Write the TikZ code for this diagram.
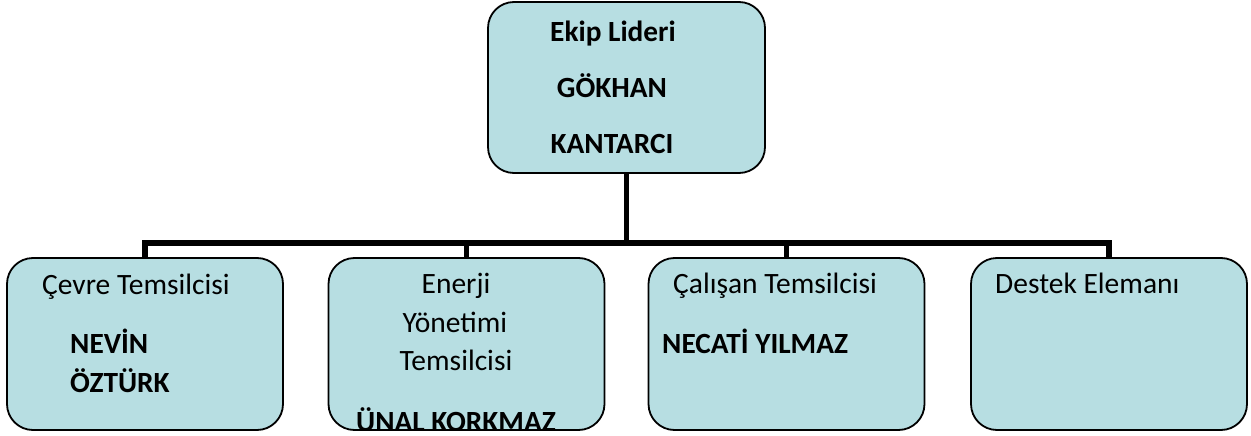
\documentclass[tikz,border=0pt]{standalone}
\usepackage{fontspec}
\setmainfont{Carlito}
\definecolor{boxfill}{RGB}{183,222,226}
\begin{document}
\begin{tikzpicture}[x=1pt,y=-1pt,
  box/.style={draw=black,line width=1.8pt,fill=boxfill,rounded corners=26pt,
    minimum width=276pt,minimum height=172pt,inner sep=0pt},
  conn/.style={draw=black,line width=5.5pt},
  txt/.style={inner sep=0pt,font=\fontsize{29.5}{34}\selectfont},
  btxt/.style={txt,font=\fontsize{29.3}{34}\selectfont\bfseries}]
\useasboundingbox (0,0) rectangle (1251,436);
% boxes
\node[box,minimum width=277pt,minimum height=171pt] (top) at (626.5,87.5) {};
\node[box] (b1) at (145,344) {};
\node[box] (b2) at (466.5,344) {};
\node[box] (b3) at (786.5,344) {};
\node[box] (b4) at (1109,344) {};
% connectors
\coordinate (bar) at (626.5,243);
\draw[conn] (top.south) -- (bar);
\draw[conn] (b1.north) |- (bar) -| (b4.north);
\draw[conn] (b2.north) -- (b2.north |- bar);
\draw[conn] (b3.north) -- (b3.north |- bar);
% top texts
\node[btxt,anchor=base] (t1) at (613,42) {Ekip Lideri};
\node[btxt,anchor=base] (t2) at (612,98) {GÖKHAN};
\node[btxt,anchor=base] (t3) at (612,153) {KANTARCI};
% box 1
\node[txt,anchor=base west] (c1) at (42,294) {Çevre Temsilcisi};
\node[btxt,anchor=base west] (c2) at (70,353) {NEVİN};
\node[btxt,anchor=base west] (c3) at (70,392) {ÖZTÜRK};
% box 2
\node[txt,anchor=base] (e1) at (456,293) {Enerji};
\node[txt,anchor=base] (e2) at (455,332) {Yönetimi};
\node[txt,anchor=base] (e3) at (456,370) {Temsilcisi};
\begin{scope}
\clip (b2.south west) rectangle (b2.north east);
\node[btxt,anchor=base] (e4) at (456,431) {ÜNAL KORKMAZ};
\end{scope}
% box 3
\node[txt,anchor=base west] (d1) at (673,293) {Çalışan Temsilcisi};
\node[btxt,anchor=base west] (d2) at (662,353) {NECATİ YILMAZ};
% box 4
\node[txt,anchor=base west] (f1) at (995,293) {Destek Elemanı};
\end{tikzpicture}
\end{document}
